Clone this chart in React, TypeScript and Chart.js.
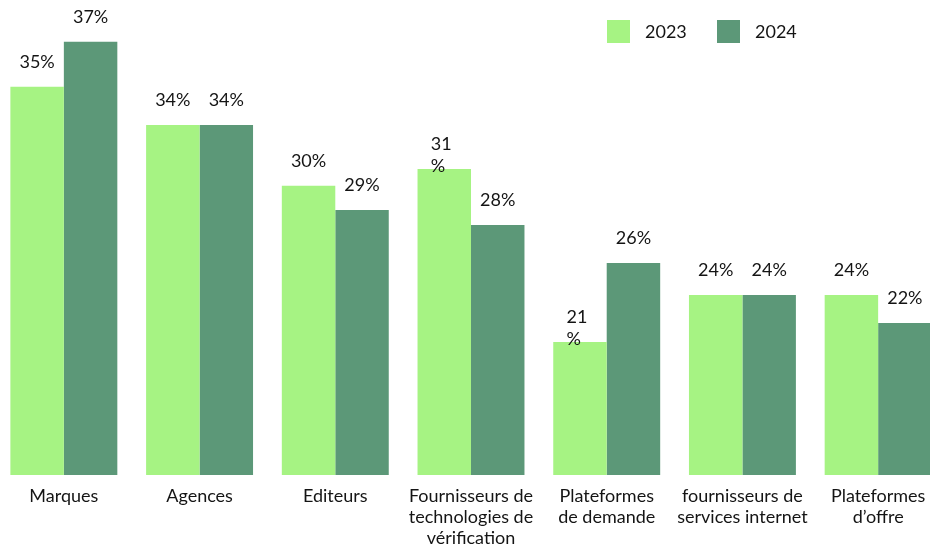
import React, { useEffect, useRef } from "react";
import { Chart, registerables } from "chart.js";

Chart.register(...registerables);

const categories: string[][] = [
  ["Marques"],
  ["Agences"],
  ["Editeurs"],
  ["Fournisseurs de", "technologies de", "vérification"],
  ["Plateformes", "de demande"],
  ["fournisseurs de", "services internet"],
  ["Plateformes", "d’offre"],
];
const seriesNames = ["2023", "2024"];
const values2023 = [35.57, 33.44, 30.07, 31.0, 21.39, 24.0, 24.0];
const values2024 = [38.07, 33.44, 28.72, 27.89, 25.78, 24.0, 22.44];
const labels2023: string[][] = [["35%"], ["34%"], ["30%"], ["31", "%"], ["21", "%"], ["24%"], ["24%"]];
const labels2024: string[][] = [["37%"], ["34%"], ["29%"], ["28%"], ["26%"], ["24%"], ["22%"]];
const yMin = 14;
const yMax = 40;

const COLORS = ["#A6F383", "#5C9878"];
const FONT = "18px Lato";
const TEXT = "#141414";

const labelPlugin = {
  id: "customLabels",
  afterDatasetsDraw(chart: any) {
    const ctx = chart.ctx as CanvasRenderingContext2D;
    ctx.save();
    ctx.font = FONT;
    ctx.fillStyle = TEXT;
    ctx.textBaseline = "alphabetic";
    const allLabels = [labels2023, labels2024];
    chart.data.datasets.forEach((ds: any, di: number) => {
      const meta = chart.getDatasetMeta(di);
      meta.data.forEach((bar: any, i: number) => {
        const lines = allLabels[di][i];
        const top = bar.y;
        if (lines.length === 1) {
          ctx.textAlign = "center";
          ctx.fillText(lines[0], bar.x, top - 19);
        } else {
          const w = ctx.measureText(lines[0]).width;
          ctx.textAlign = "left";
          lines.forEach((ln, li) => {
            ctx.fillText(ln, bar.x - w / 2 - 3, top - 19 + li * 22);
          });
        }
      });
    });
    // category labels
    const xs = chart.scales.x;
    const base = chart.chartArea.bottom;
    ctx.textAlign = "center";
    categories.forEach((lines, i) => {
      const cx = xs.getPixelForValue(i);
      lines.forEach((ln, li) => {
        ctx.fillText(ln, cx, base + 27 + li * 21);
      });
    });
    // legend
    const right = chart.chartArea.right;
    const starts = [right - 339, right - 229];
    chart.data.datasets.forEach((ds: any, di: number) => {
      const x0 = starts[di];
      ctx.fillStyle = ds.backgroundColor;
      ctx.fillRect(x0, 20, 23, 23);
      ctx.fillStyle = TEXT;
      ctx.textAlign = "left";
      ctx.fillText(ds.label, x0 + 38, 38);
    });
    ctx.restore();
  },
};

export default function App() {
  const ref = useRef<HTMLCanvasElement | null>(null);
  useEffect(() => {
    if (!ref.current) return;
    const chart = new Chart(ref.current, {
      type: "bar",
      data: {
        labels: categories.map((c) => c.join(" ")),
        datasets: [
          {
            label: seriesNames[0],
            data: values2023,
            backgroundColor: COLORS[0],
            borderWidth: 0,
            categoryPercentage: 0.788,
            barPercentage: 1.0,
          },
          {
            label: seriesNames[1],
            data: values2024,
            backgroundColor: COLORS[1],
            borderWidth: 0,
            categoryPercentage: 0.788,
            barPercentage: 1.0,
          },
        ],
      },
      options: {
        responsive: false,
        animation: false,
        devicePixelRatio: 1,
        layout: { padding: { top: 7, bottom: 72, left: 0, right: 0 } },
        plugins: { legend: { display: false }, tooltip: { enabled: false } },
        scales: {
          x: { display: false, offset: true },
          y: { display: false, min: yMin, max: yMax },
        },
      },
      plugins: [labelPlugin],
    });
    return () => chart.destroy();
  }, []);
  return (
    <div style={{ position: "fixed", left: 0, top: 0, width: 930, height: 547, overflow: "hidden", background: "#fff" }}>
      <canvas
        ref={ref}
        width={950}
        height={547}
        style={{ position: "absolute", left: -4, top: 0, width: 950, height: 547 }}
      />
    </div>
  );
}
